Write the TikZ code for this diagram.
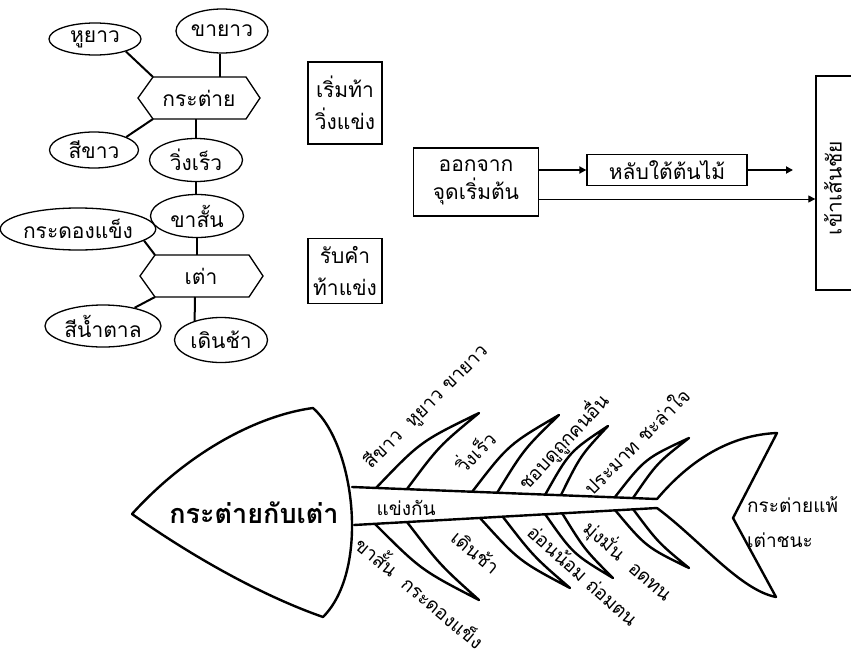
\documentclass[tikz,border=0pt]{standalone}
\usepackage{fontspec}
\newfontfamily\thai[Script=Thai]{Loma}
\usetikzlibrary{shapes.geometric,arrows.meta,calc}
\begin{document}
\begin{tikzpicture}[x=1pt,y=-1pt,
  every node/.style={font=\thai\fontsize{21}{26}\selectfont, inner sep=0pt},
  ell/.style n args={2}{draw, ellipse, line width=1.3pt, minimum width=#1, minimum height=#2},
  link/.style={line width=2pt},
  hexline/.style={line width=1.3pt, line join=miter},
  box/.style={draw, line width=1.3pt, align=center},
  fish/.style={line width=2.4pt, line join=round, line cap=round},
  bone/.style={font=\thai\fontsize{19}{22}\selectfont},
  arr/.style={-{Triangle[length=7pt,width=7pt]}}
]
\useasboundingbox (0,0) rectangle (851,653);

% ---------- rabbit / turtle cluster ----------
\node (rab) at (199,98) {กระต่าย};
\coordinate (rabTL) at (153,77);
\coordinate (rabBL) at (153,119);
\draw[hexline] (138,98) -- (rabTL) -- (246,77) -- (260,98) -- (246,119) -- (rabBL) -- cycle;

\node (tao) at (201,276) {เต่า};
\coordinate (taoTL) at (155,255);
\coordinate (taoBL) at (155,297);
\draw[hexline] (140,276) -- (taoTL) -- (249,255) -- (263,276) -- (249,297) -- (taoBL) -- cycle;

\node[ell={92}{32}] (hu) at (95,39) {หูยาว};
\node[ell={92}{44}] (khayao) at (222,31) {ขายาว};
\node[ell={89}{36}] (sikhao) at (94,150) {สีขาว};
\node[ell={93}{43}] (wing) at (196,160) {วิ่งเร็ว};
\node[ell={93}{43}] (khasan) at (197,216) {ขาสั้น};
\node[ell={140}{42}] (kradong) at (78,229) {กระดองแข็ง};
\node[ell={116}{42}] (sinam) at (103,326) {สีน้ำตาล};
\node[ell={93}{45}] (doen) at (221,340) {เดินช้า};

\coordinate (taoB) at (195,297);
\coordinate (rabT) at (220,77);
\draw[link] (hu.-22) -- (rabTL);
\draw[link] (khayao.south -| rabT) -- (rabT);
\draw[link] (sikhao.22) -- (rabBL);
\draw[link] (wing.north) -- (wing.north |- rabBL);
\draw[link] (wing.south) -- (wing.south |- khasan.north);
\draw[link] (khasan.south) -- (khasan.south |- taoTL);
\draw[link] (kradong.-10) -- (taoTL);
\draw[link] (sinam.30) -- (taoBL);
\draw[link] (taoB) -- (doen.144);

\node[box, minimum width=74, minimum height=82] (start) at (345,103) {เริ่มท้า\\[6pt]วิ่งแข่ง};
\node[box, minimum width=74, minimum height=65] (accept) at (345,271) {รับคำ\\[6pt]ท้าแข่ง};

% ---------- flow chart ----------
\node[box, minimum width=125, minimum height=68] (ok) at (476,182) {ออกจาก\\[2pt]จุดเริ่มต้น};
\node[box, minimum width=160, minimum height=31] (lap) at (667,170) {หลับใต้ต้นไม้};
\node[draw, line width=1.3pt, minimum width=50, minimum height=214] (fin) at (841,183) {};
\node[rotate=90] (fintext) at (833,188) {เข้าเส้นชัย};
\coordinate (lapend) at (793,170);
\coordinate (lowy) at (0,199);
\draw[arr, line width=2pt] (ok.east |- lap.west) -- (lap.west);
\draw[arr, line width=2pt] (lap.east) -- (lapend);
\draw[arr, line width=1pt] (ok.east |- lowy) -- (fin.west |- lowy);

% ---------- fish ----------
\coordinate (hT) at (313,408);
\coordinate (hL) at (132,514);
\coordinate (hB) at (323,617);
\draw[fish] (hL) .. controls (190,450) and (260,415) .. (hT)
  .. controls (355,445) and (370,570) .. (hB)
  .. controls (260,595) and (190,555) .. (hL);
\node[font=\thai\bfseries\fontsize{27}{30}\selectfont] (title) at (254,513) {กระต่ายกับเต่า};

\coordinate (sU0) at (352,487);
\coordinate (sU1) at (657,499);
\coordinate (sL0) at (354,525);
\coordinate (sL1) at (657,508);
\draw[fish] (sU0) -- (sU1);
\draw[fish] (sL0) -- (sL1);

\coordinate (tT) at (777,433);
\coordinate (tN) at (733,518);
\coordinate (tB) at (776,597);
\draw[fish] (sU1) .. controls (690,460) and (730,435) .. (tT) -- (tN) -- (tB)
  .. controls (740,590) and (700,540) .. (sL1);

% upper bones
\foreach \ax/\ay/\bx/\by/\tx/\ty in {376/488/407/489/479/413, 472/492/497/493/559/415, 545/495/561/495/608/426, 615/497/633/498/689/438}{
  \coordinate (ba) at (\ax,\ay);
  \coordinate (bb) at (\bx,\by);
  \coordinate (bt) at (\tx,\ty);
  \draw[fish] (ba) .. controls ($(ba)!0.5!(bt)+(-7,-9)$) .. (bt)
    .. controls ($(bb)!0.5!(bt)+(-4,-5)$) .. (bb);
}
% lower bones
\foreach \ax/\ay/\bx/\by/\tx/\ty in {375/524/407/522/479/600, 480/518/503/517/570/588, 545/514/562/513/613/578, 615/510/633/509/689/568}{
  \coordinate (ba) at (\ax,\ay);
  \coordinate (bb) at (\bx,\by);
  \coordinate (bt) at (\tx,\ty);
  \draw[fish] (ba) .. controls ($(ba)!0.5!(bt)+(-6,8)$) .. (bt)
    .. controls ($(bb)!0.5!(bt)+(-3,4)$) .. (bb);
}

\node[bone, rotate=45] (l1) at (426,407) {สีขาว\ \ หูยาว ขายาว};
\node[bone, rotate=45] (l2) at (474,451) {วิ่งเร็ว};
\node[bone, rotate=47] (l3) at (563,442) {ชอบดูถูกคนอื่น};
\node[bone, rotate=45] (l4) at (636,441) {ประมาท ชะล่าใจ};
\node[bone] (l5) at (406,508) {แข่งกัน};
\node[bone, rotate=-40] (l6) at (421,591) {ขาสั้น\ \ กระดองแข็ง};
\node[bone, rotate=-40] (l7) at (476,552) {เดินช้า};
\node[bone, rotate=-42] (l8) at (583,575) {อ่อนน้อม ถ่อมตน};
\node[bone, rotate=-41] (l9) at (628,561) {มุ่งมั่น\ \ อดทน};
\node[bone, anchor=west] (r1) at (747,505) {กระต่ายแพ้};
\node[bone, anchor=west] (r2) at (747,540) {เต่าชนะ};
\end{tikzpicture}
\end{document}
